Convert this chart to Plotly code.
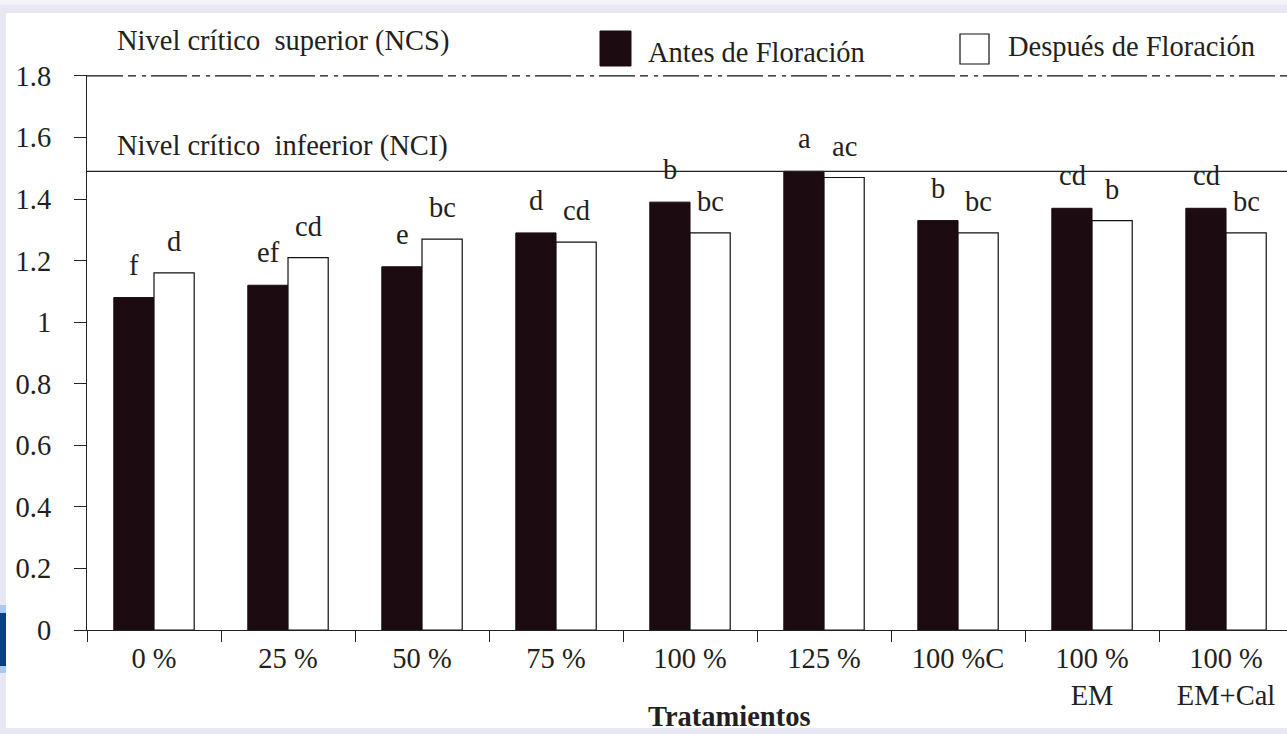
import plotly.graph_objects as go

# ---------------- data ----------------
categories = ["0 %", "25 %", "50 %", "75 %", "100 %", "125 %", "100 %C", "100 %<br>EM", "100 %<br>EM+Cal"]
antes = [1.08, 1.12, 1.18, 1.29, 1.39, 1.49, 1.33, 1.37, 1.37]
despues = [1.16, 1.21, 1.27, 1.26, 1.29, 1.47, 1.29, 1.33, 1.29]
letras_antes = ["f", "ef", "e", "d", "b", "a", "b", "cd", "cd"]
letras_despues = ["d", "cd", "bc", "cd", "bc", "ac", "bc", "b", "bc"]
nivel_superior = 1.8
nivel_inferior = 1.49
y_ticks = [0, 0.2, 0.4, 0.6, 0.8, 1, 1.2, 1.4, 1.6, 1.8]

# ---------------- layout helpers ----------------
W, H = 1287, 734
L, R, T, B = 87, 1287, 75, 630
FONT = "Liberation Serif"
FS = 28.5
TXT = "#231f20"
BARK = "#1c0b10"


def px(xp):
    return (xp - L) / (R - L)


def py(yp):
    return (B - yp) / (B - T)


fig = go.Figure()
fig.add_trace(go.Bar(x=categories, y=antes, name="Antes de Floración",
                     marker=dict(color=BARK, line=dict(color=BARK, width=1)),
                     showlegend=False))
fig.add_trace(go.Bar(x=categories, y=despues, name="Después de Floración",
                     marker=dict(color="white", line=dict(color="#111", width=1.2)),
                     showlegend=False))

annotations = []
for c, v, t in zip(categories, antes, letras_antes):
    annotations.append(dict(x=c, y=v, xref="x", yref="y", text=t, showarrow=False,
                            xshift=-20, yshift=15, yanchor="bottom", xanchor="center",
                            font=dict(family=FONT, size=FS, color=TXT)))
for c, v, t in zip(categories, despues, letras_despues):
    annotations.append(dict(x=c, y=v, xref="x", yref="y", text=t, showarrow=False,
                            xshift=20, yshift=14, yanchor="bottom", xanchor="center",
                            font=dict(family=FONT, size=FS, color=TXT)))


def label(text, xp, yp, xanchor="left", bold=False):
    return dict(x=px(xp), y=py(yp), xref="paper", yref="paper",
                text=("<b>%s</b>" % text) if bold else text,
                showarrow=False, xanchor=xanchor, yanchor="middle",
                font=dict(family=FONT, size=FS, color=TXT))


annotations += [
    label("Nivel crítico\u00a0 superior (NCS)", 115, 41),
    label("Nivel crítico\u00a0 infeerior (NCI)", 115, 146),
    label("Antes de Floración", 646, 53),
    label("Después de Floración", 1006, 46),
    label("Tratamientos", 729, 716, xanchor="center", bold=True),
]

shapes = [
    # page frame
    dict(type="rect", xref="paper", yref="paper", x0=px(-5), x1=px(W + 5), y0=py(-5), y1=py(5),
         fillcolor="#f3f3f9", line=dict(width=0), layer="below"),
    dict(type="rect", xref="paper", yref="paper", x0=px(6), x1=px(W + 5), y0=py(13), y1=py(728),
         fillcolor="white", line=dict(width=0), layer="below"),
    dict(type="rect", xref="paper", yref="paper", x0=px(-5), x1=px(6), y0=py(605), y1=py(673),
         fillcolor="#a9c9ee", line=dict(width=0), layer="below"),
    dict(type="rect", xref="paper", yref="paper", x0=px(-5), x1=px(6), y0=py(613), y1=py(666),
         fillcolor="#0d3f7e", line=dict(width=0), layer="below"),
    # critical levels
    dict(type="line", xref="x domain", yref="y", x0=0, x1=1, y0=nivel_superior, y1=nivel_superior,
         line=dict(color="#111", width=1.4, dash="36px,5px,8px,6px,4px,5px")),
    dict(type="line", xref="x domain", yref="y", x0=0, x1=1, y0=nivel_inferior, y1=nivel_inferior,
         line=dict(color="#222", width=1.3)),
    # legend swatches
    dict(type="rect", xref="paper", yref="paper", x0=px(600), x1=px(631), y0=py(31), y1=py(66),
         fillcolor=BARK, line=dict(color=BARK, width=1)),
    dict(type="rect", xref="paper", yref="paper", x0=px(960), x1=px(989), y0=py(34), y1=py(64),
         fillcolor="white", line=dict(color="#111", width=1.2)),
]

fig.update_layout(
    width=W, height=H,
    margin=dict(l=L, r=W - R, t=T, b=H - B, pad=0),
    paper_bgcolor="#e8e8f4",
    plot_bgcolor="rgba(0,0,0,0)",
    barmode="group", bargap=0.4, bargroupgap=0,
    font=dict(family=FONT, size=FS, color=TXT),
    annotations=annotations,
    shapes=shapes,
    showlegend=False,
)
fig.update_xaxes(type="category", range=[-0.5, 8.455], tickson="boundaries",
                 ticks="outside", ticklen=11, tickcolor="#222", tickwidth=1,
                 showline=True, linecolor="#222", linewidth=1.3, showgrid=False,
                 tickfont=dict(family=FONT, size=FS, color=TXT), automargin=False,
                 ticklabelstandoff=3)
fig.update_yaxes(range=[0, 1.803], tickvals=y_ticks, ticktext=[str(v) for v in y_ticks],
                 ticks="outside", ticklen=12, tickcolor="#222", tickwidth=1,
                 showline=True, linecolor="#222", linewidth=1.3, showgrid=False, zeroline=False,
                 tickfont=dict(family=FONT, size=FS, color=TXT), automargin=False,
                 ticklabelstandoff=17)

fig.write_html("out.html", config={"displayModeBar": False},
               post_script="document.body.style.margin='0';document.body.style.overflow='hidden';")
